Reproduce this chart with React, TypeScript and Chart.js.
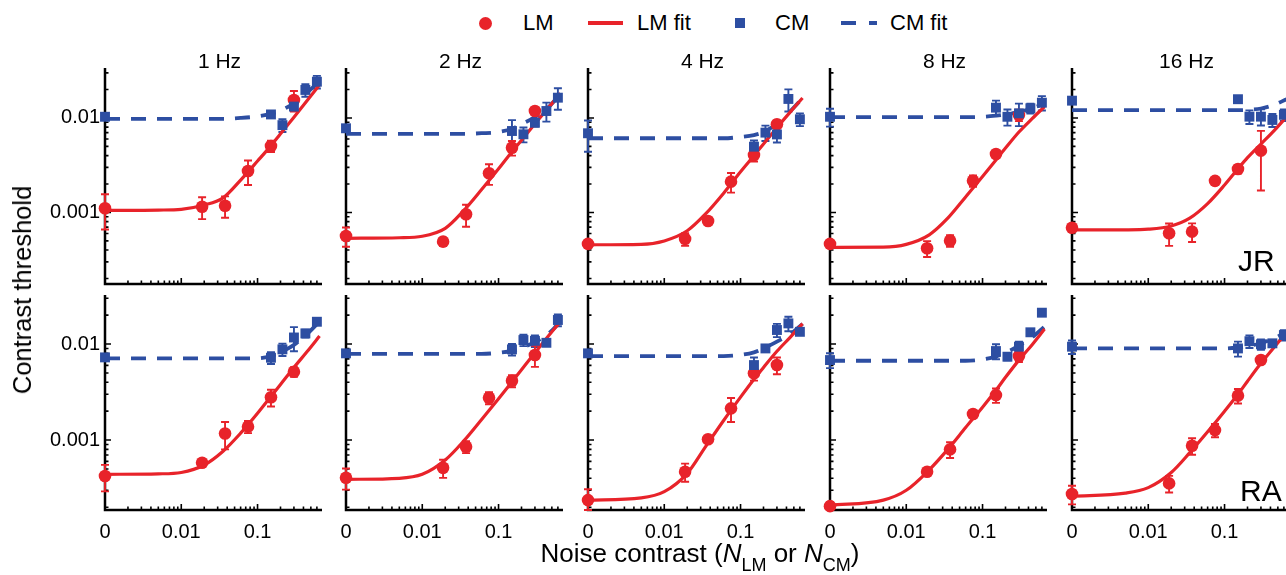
import React, { useEffect, useRef } from "react";
import { Chart, registerables } from "chart.js";

Chart.register(...registerables);

// ---------------- data ----------------
const FREQUENCIES = ["1 Hz", "2 Hz", "4 Hz", "8 Hz", "16 Hz"];
const OBSERVERS = ["JR", "RA"];

const NOISE_LM = [0, 0.01875, 0.0375, 0.075, 0.15, 0.3];
const NOISE_CM = [0, 0.15, 0.212, 0.3, 0.424, 0.6];
const NOISE_FIT = [0, 0.005, 0.01, 0.02, 0.035, 0.06, 0.1, 0.15, 0.2, 0.3, 0.45, 0.65];

const ZERO_NOISE_AT = 0.001; // where the "0" noise condition is drawn
const X_TICK_VALUES = [0.001, 0.01, 0.1];
const X_TICK_LABELS = ["0", "0.01", "0.1"];
const Y_TICK_VALUES = [0.001, 0.01];
const Y_TICK_LABELS = ["0.001", "0.01"];
const X_RANGE = [0.001, 0.7];
const Y_RANGE_JR = [0.000175, 0.0338];
const Y_RANGE_RA = [0.000187, 0.0324];

// Observer JR (top row), one row per frequency
const JR_LM = [
  [0.00111, 0.00115, 0.00118, 0.00275, 0.00506, 0.0155],
  [0.000564, 0.000491, 0.000957, 0.0026, 0.00485, 0.01185],
  [0.000465, 0.000525, 0.000813, 0.00212, 0.00406, 0.00857],
  [0.000465, 0.000418, 0.000503, 0.00217, 0.00416, 0.01076],
  [0.00069, 0.000603, 0.000627, 0.00216, 0.00288, 0.00451],
];
const JR_LM_ERR = [
  [0.00045, 0.0003, 0.0003, 0.0008, 0.0007, 0.0038],
  [0.00013, 0.00005, 0.00025, 0.00064, 0.00085, 0.001],
  [0.00004, 0.00008, 0.00003, 0.0005, 0.0006, 0.0008],
  [0.00003, 0.00008, 0.00007, 0.0003, 0.0003, 0.0015],
  [0.00004, 0.00016, 0.00014, 0.00015, 0.0003, 0.0028],
];
const JR_CM = [
  [0.0103, 0.0109, 0.0084, 0.0132, 0.0198, 0.0242],
  [0.00778, 0.00728, 0.00672, 0.0089, 0.01185, 0.0164],
  [0.00689, 0.00497, 0.007, 0.0067, 0.0159, 0.00969],
  [0.0103, 0.01286, 0.0103, 0.0112, 0.01267, 0.01452],
  [0.01525, 0.0158, 0.01033, 0.01033, 0.00953, 0.0108],
];
const JR_CM_ERR = [
  [0.0004, 0.0008, 0.0013, 0.0008, 0.003, 0.0037],
  [0.0005, 0.0022, 0.0012, 0.0008, 0.0027, 0.0042],
  [0.0025, 0.0008, 0.0013, 0.0012, 0.0042, 0.0015],
  [0.0022, 0.0024, 0.002, 0.003, 0.0015, 0.0025],
  [0.0006, 0.001, 0.0017, 0.002, 0.0015, 0.0015],
];
const JR_LM_FIT = [
  [0.00105, 0.00106, 0.00108, 0.0012, 0.00142, 0.0022, 0.0035, 0.0051, 0.0068, 0.0102, 0.0154, 0.0225],
  [0.000533, 0.00054, 0.00056, 0.00068, 0.00105, 0.00175, 0.0029, 0.0044, 0.0058, 0.0087, 0.0128, 0.0183],
  [0.000455, 0.00046, 0.0005, 0.00064, 0.00097, 0.0016, 0.0027, 0.004, 0.0053, 0.0079, 0.0116, 0.0163],
  [0.000428, 0.00043, 0.00046, 0.00058, 0.00087, 0.00146, 0.0024, 0.0036, 0.0048, 0.0071, 0.0099, 0.0132],
  [0.000653, 0.000655, 0.000665, 0.00072, 0.00087, 0.00124, 0.00195, 0.0029, 0.0038, 0.0053, 0.0074, 0.0103],
];
const JR_CM_FIT = [
  [0.0098, 0.0098, 0.0098, 0.0098, 0.0098, 0.01, 0.0104, 0.0111, 0.012, 0.0143, 0.0186, 0.0246],
  [0.0068, 0.0068, 0.0068, 0.0068, 0.0068, 0.0069, 0.0071, 0.0077, 0.0086, 0.0102, 0.013, 0.018],
  [0.0061, 0.0061, 0.0061, 0.0061, 0.0061, 0.0061, 0.0063, 0.0066, 0.0071, 0.0087, 0.0118, 0.0162],
  [0.0102, 0.0102, 0.0102, 0.0102, 0.0102, 0.0102, 0.0103, 0.0106, 0.0109, 0.0116, 0.0127, 0.0142],
  [0.0121, 0.0121, 0.0121, 0.0121, 0.0121, 0.0121, 0.0121, 0.0121, 0.0122, 0.0126, 0.0138, 0.0158],
];

// Observer RA (bottom row)
const RA_LM = [
  [0.000422, 0.00058, 0.00117, 0.00138, 0.00279, 0.00515],
  [0.000405, 0.000514, 0.000851, 0.00276, 0.00415, 0.00768],
  [0.000237, 0.000468, 0.00102, 0.00214, 0.00496, 0.00604],
  [0.000205, 0.000468, 0.0008, 0.00187, 0.00294, 0.0075],
  [0.000274, 0.000354, 0.000873, 0.00127, 0.0029, 0.00681],
];
const RA_LM_ERR = [
  [0.00013, 0.00004, 0.00037, 0.0002, 0.00055, 0.0006],
  [0.0001, 0.00011, 0.00012, 0.0004, 0.0006, 0.0019],
  [0.00007, 0.0001, 0.00004, 0.0006, 0.0008, 0.0012],
  [0.00002, 0.00003, 0.00015, 0.0001, 0.0005, 0.001],
  [0.00006, 0.00007, 0.00017, 0.0002, 0.0005, 0.0004],
];
const RA_CM = [
  [0.00726, 0.0072, 0.0088, 0.0117, 0.0129, 0.01706],
  [0.008, 0.0088, 0.011, 0.0108, 0.0103, 0.0178],
  [0.008, 0.00604, 0.009, 0.014, 0.0164, 0.0134],
  [0.00681, 0.00845, 0.00738, 0.00938, 0.01325, 0.0212],
  [0.00938, 0.009, 0.0107, 0.00993, 0.01017, 0.0124],
];
const RA_CM_ERR = [
  [0.0004, 0.001, 0.0013, 0.0033, 0.0012, 0.0008],
  [0.0004, 0.0012, 0.0015, 0.0015, 0.0006, 0.0025],
  [0.0004, 0.0012, 0.0005, 0.0022, 0.0028, 0.0008],
  [0.0012, 0.0015, 0.0006, 0.0012, 0.0008, 0.0008],
  [0.0015, 0.0016, 0.0016, 0.0012, 0.0008, 0.0015],
];
const RA_LM_FIT = [
  [0.00044, 0.000445, 0.00046, 0.00055, 0.00076, 0.00118, 0.0019, 0.00285, 0.0038, 0.0057, 0.0084, 0.0121],
  [0.00039, 0.0004, 0.00044, 0.00062, 0.00098, 0.00164, 0.0027, 0.00405, 0.0054, 0.0081, 0.0121, 0.0172],
  [0.000237, 0.00025, 0.00029, 0.00045, 0.00086, 0.0016, 0.0028, 0.0043, 0.0057, 0.0084, 0.0118, 0.0163],
  [0.00021, 0.000237, 0.0003, 0.00049, 0.0008, 0.00135, 0.0022, 0.0033, 0.0045, 0.0068, 0.0099, 0.0143],
  [0.00026, 0.00028, 0.00032, 0.00046, 0.00074, 0.00122, 0.002, 0.003, 0.0041, 0.0063, 0.0093, 0.0133],
];
const RA_CM_FIT = [
  [0.0071, 0.0071, 0.0071, 0.0071, 0.0071, 0.0071, 0.0071, 0.0075, 0.0082, 0.0098, 0.0128, 0.0172],
  [0.0079, 0.0079, 0.0079, 0.0079, 0.0079, 0.0079, 0.0081, 0.0085, 0.0091, 0.0105, 0.0128, 0.0172],
  [0.0075, 0.0075, 0.0075, 0.0075, 0.0075, 0.0075, 0.0077, 0.0082, 0.009, 0.0106, 0.0127, 0.0162],
  [0.0067, 0.0067, 0.0067, 0.0067, 0.0067, 0.0067, 0.0069, 0.0074, 0.0081, 0.0096, 0.0118, 0.0152],
  [0.009, 0.009, 0.009, 0.009, 0.009, 0.009, 0.009, 0.0092, 0.0095, 0.0102, 0.0115, 0.0135],
];

// ---------------- style / layout ----------------
const RED = "#e8232a";
const BLUE = "#2d4ea2";
const FONT = "'Liberation Sans', Arial, Helvetica, sans-serif";

const COL_LEFT = [105, 346, 588, 830, 1072];
const PLOT_W = 217;
const ROW_TOP = [68, 295];
const ROW_H = [216, 215];
const Y_AXIS_W = 80;
const X_AXIS_H = 45;
const PAD_T = 12;
const PAD_R = 14;

const noisePos = (n: number) => (n === 0 ? ZERO_NOISE_AT : n);

function logTickList(min: number, max: number) {
  const out: { v: number; major: boolean }[] = [];
  for (let e = -5; e <= 1; e++) {
    for (let m = 1; m <= 9; m++) {
      const v = m * Math.pow(10, e);
      if (v > min * 1.0001 && v < max * 0.9999) out.push({ v, major: m === 1 });
    }
  }
  return out;
}

const axesPlugin = {
  id: "panelAxes",
  beforeDatasetsDraw(chart: any) {
    const { ctx, chartArea: a, scales } = chart;
    const x = scales.x;
    const y = scales.y;
    ctx.save();
    ctx.strokeStyle = "#000";
    ctx.lineWidth = 2.5;
    ctx.beginPath();
    ctx.moveTo(a.left, a.top);
    ctx.lineTo(a.left, a.bottom);
    ctx.lineTo(a.right, a.bottom);
    ctx.stroke();
    ctx.lineWidth = 1.6;
    ctx.beginPath();
    for (const t of logTickList(x.min, x.max)) {
      const px = x.getPixelForValue(t.v);
      const len = t.major ? 6 : 3.5;
      ctx.moveTo(px, a.bottom);
      ctx.lineTo(px, a.bottom - len);
    }
    for (const t of logTickList(y.min, y.max)) {
      const py = y.getPixelForValue(t.v);
      const len = t.major ? 6 : 3.5;
      ctx.moveTo(a.left, py);
      ctx.lineTo(a.left + len, py);
    }
    ctx.stroke();
    ctx.restore();
  },
};

const errorBarPlugin = {
  id: "errorBars",
  beforeDatasetsDraw(chart: any) {
    const { ctx, scales } = chart;
    const x = scales.x;
    const y = scales.y;
    chart.data.datasets.forEach((ds: any) => {
      if (!ds.errorBars) return;
      ctx.save();
      ctx.strokeStyle = ds.backgroundColor;
      ctx.lineWidth = 1.9;
      ctx.beginPath();
      ds.data.forEach((p: any, i: number) => {
        const e = ds.errorBars[i];
        if (!e) return;
        const px = x.getPixelForValue(p.x);
        const yTop = y.getPixelForValue(p.y + e);
        const yBot = y.getPixelForValue(Math.max(p.y - e, y.min));
        ctx.moveTo(px, yTop);
        ctx.lineTo(px, yBot);
        ctx.moveTo(px - 4, yTop);
        ctx.lineTo(px + 4, yTop);
        ctx.moveTo(px - 4, yBot);
        ctx.lineTo(px + 4, yBot);
      });
      ctx.stroke();
      ctx.restore();
    });
  },
};

function Panel({ row, col }: { row: number; col: number }) {
  const ref = useRef<HTMLCanvasElement>(null);
  const left = COL_LEFT[col] - Y_AXIS_W;
  const top = ROW_TOP[row] - PAD_T;
  const w = Y_AXIS_W + PLOT_W + PAD_R;
  const h = PAD_T + ROW_H[row] + X_AXIS_H;

  useEffect(() => {
    const lm = row === 0 ? JR_LM[col] : RA_LM[col];
    const lmErr = row === 0 ? JR_LM_ERR[col] : RA_LM_ERR[col];
    const cm = row === 0 ? JR_CM[col] : RA_CM[col];
    const cmErr = row === 0 ? JR_CM_ERR[col] : RA_CM_ERR[col];
    const lmFit = row === 0 ? JR_LM_FIT[col] : RA_LM_FIT[col];
    const cmFit = row === 0 ? JR_CM_FIT[col] : RA_CM_FIT[col];
    const yRange = row === 0 ? Y_RANGE_JR : Y_RANGE_RA;

    const chart = new Chart(ref.current as HTMLCanvasElement, {
      type: "line",
      data: {
        datasets: [
          {
            label: "CM",
            data: NOISE_CM.map((n, i) => ({ x: noisePos(n), y: cm[i] })),
            showLine: false,
            pointStyle: "rect",
            pointRadius: 7,
            pointBorderWidth: 0,
            backgroundColor: BLUE,
            borderColor: BLUE,
            errorBars: cmErr,
            order: 1,
            clip: false,
          } as any,
          {
            label: "LM",
            data: NOISE_LM.map((n, i) => ({ x: noisePos(n), y: lm[i] })),
            showLine: false,
            pointStyle: "circle",
            pointRadius: 6.3,
            pointBorderWidth: 0,
            backgroundColor: RED,
            borderColor: RED,
            errorBars: lmErr,
            order: 2,
            clip: false,
          } as any,
          {
            label: "LM fit",
            data: NOISE_FIT.map((n, i) => ({ x: noisePos(n), y: lmFit[i] })),
            borderColor: RED,
            borderWidth: 3.2,
            pointRadius: 0,
            cubicInterpolationMode: "monotone",
            fill: false,
            order: 3,
            clip: false,
          } as any,
          {
            label: "CM fit",
            data: NOISE_FIT.map((n, i) => ({ x: noisePos(n), y: cmFit[i] })),
            borderColor: BLUE,
            borderWidth: 3.8,
            borderDash: [15, 11],
            pointRadius: 0,
            cubicInterpolationMode: "monotone",
            fill: false,
            order: 4,
            clip: false,
          } as any,
        ],
      },
      options: {
        animation: false,
        responsive: false,
        maintainAspectRatio: false,
        events: [],
        layout: { autoPadding: false, padding: { top: PAD_T, right: PAD_R, left: 0, bottom: 0 } },
        plugins: { legend: { display: false }, tooltip: { enabled: false }, title: { display: false } },
        scales: {
          x: {
            type: "logarithmic",
            min: X_RANGE[0],
            max: X_RANGE[1],
            bounds: "data",
            grid: { display: false, drawTicks: false },
            border: { display: false },
            afterBuildTicks: (s: any) => {
              s.ticks = X_TICK_VALUES.map((v) => ({ value: v }));
            },
            afterFit: (s: any) => {
              s.height = X_AXIS_H;
              s.paddingLeft = 0;
              s.paddingRight = 0;
              s.paddingTop = 0;
              s.paddingBottom = 0;
            },
            ticks: {
              display: row === 1,
              autoSkip: false,
              maxRotation: 0,
              minRotation: 0,
              padding: 10,
              color: "#000",
              font: { family: FONT, size: 20 },
              callback: (v: any) => {
                const k = X_TICK_VALUES.indexOf(Number(v));
                return k >= 0 ? X_TICK_LABELS[k] : "";
              },
            },
          } as any,
          y: {
            type: "logarithmic",
            min: yRange[0],
            max: yRange[1],
            bounds: "data",
            grid: { display: false, drawTicks: false },
            border: { display: false },
            afterBuildTicks: (s: any) => {
              s.ticks = Y_TICK_VALUES.map((v) => ({ value: v }));
            },
            afterFit: (s: any) => {
              s.width = Y_AXIS_W;
              s.paddingLeft = 0;
              s.paddingRight = 0;
              s.paddingTop = 0;
              s.paddingBottom = 0;
            },
            ticks: {
              display: col === 0,
              autoSkip: false,
              padding: 5,
              color: "#000",
              font: { family: FONT, size: 20 },
              callback: (v: any) => {
                const k = Y_TICK_VALUES.indexOf(Number(v));
                return k >= 0 ? Y_TICK_LABELS[k] : "";
              },
            },
          } as any,
        },
      },
      plugins: [axesPlugin, errorBarPlugin],
    });
    return () => chart.destroy();
  }, [row, col]);

  return (
    <canvas
      ref={ref}
      width={w}
      height={h}
      style={{ position: "absolute", left, top, width: w, height: h }}
    />
  );
}

function Text({
  x,
  y,
  size,
  children,
  center = false,
  style = {},
}: {
  x: number;
  y: number;
  size: number;
  children: React.ReactNode;
  center?: boolean;
  style?: React.CSSProperties;
}) {
  // y is the vertical centre of capital letters
  return (
    <div
      style={{
        position: "absolute",
        left: x,
        top: y - 0.49 * size,
        fontFamily: FONT,
        fontSize: size,
        lineHeight: `${size}px`,
        whiteSpace: "nowrap",
        color: "#000",
        transform: center ? "translateX(-50%)" : undefined,
        ...style,
      }}
    >
      {children}
    </div>
  );
}

export default function App() {
  const panels: React.ReactNode[] = [];
  for (let r = 0; r < 2; r++) {
    for (let c = 0; c < 5; c++) panels.push(<Panel key={`${r}-${c}`} row={r} col={c} />);
  }
  const legendY = 23;
  return (
    <div
      style={{
        position: "absolute",
        left: 0,
        top: 0,
        width: 1286,
        height: 575,
        overflow: "hidden",
        background: "#fff",
      }}
    >
      {panels}

      {/* legend */}
      <div style={{ position: "absolute", left: 485 - 6.5, top: legendY - 6.5, width: 13, height: 13, borderRadius: "50%", background: RED }} />
      <Text x={523} y={legendY} size={22}>LM</Text>
      <div style={{ position: "absolute", left: 588, top: legendY - 1.75, width: 35, height: 3.5, background: RED }} />
      <Text x={637} y={legendY} size={22}>LM fit</Text>
      <div style={{ position: "absolute", left: 735, top: legendY - 5, width: 10, height: 10, background: BLUE }} />
      <Text x={775} y={legendY} size={22}>CM</Text>
      <div style={{ position: "absolute", left: 841, top: legendY - 2, width: 15, height: 4, background: BLUE }} />
      <div style={{ position: "absolute", left: 869, top: legendY - 2, width: 8, height: 4, background: BLUE }} />
      <Text x={890} y={legendY} size={22}>CM fit</Text>

      {/* panel titles */}
      {FREQUENCIES.map((f, i) => (
        <Text key={f} x={COL_LEFT[i] + PLOT_W / 2 + 6} y={60} size={21} center>
          {f}
        </Text>
      ))}

      {/* observer labels */}
      <Text x={1238} y={261} size={30}>{OBSERVERS[0]}</Text>
      <Text x={1240} y={491} size={30}>{OBSERVERS[1]}</Text>

      {/* y-axis title */}
      <div
        style={{
          position: "absolute",
          left: 22,
          top: 290,
          fontFamily: FONT,
          fontSize: 25.5,
          lineHeight: "26px",
          whiteSpace: "nowrap",
          color: "#000",
          transform: "translate(-50%, -50%) rotate(-90deg)",
        }}
      >
        Contrast threshold
      </div>

      {/* x-axis title */}
      <div
        style={{
          position: "absolute",
          left: 700,
          top: 540,
          fontFamily: FONT,
          fontSize: 26,
          lineHeight: "26px",
          whiteSpace: "nowrap",
          color: "#000",
          transform: "translateX(-50%)",
        }}
      >
        Noise contrast (<i>N</i>
        <span style={{ fontSize: 18, position: "relative", top: 9 }}>LM</span> or <i>N</i>
        <span style={{ fontSize: 18, position: "relative", top: 9 }}>CM</span>)
      </div>
    </div>
  );
}
